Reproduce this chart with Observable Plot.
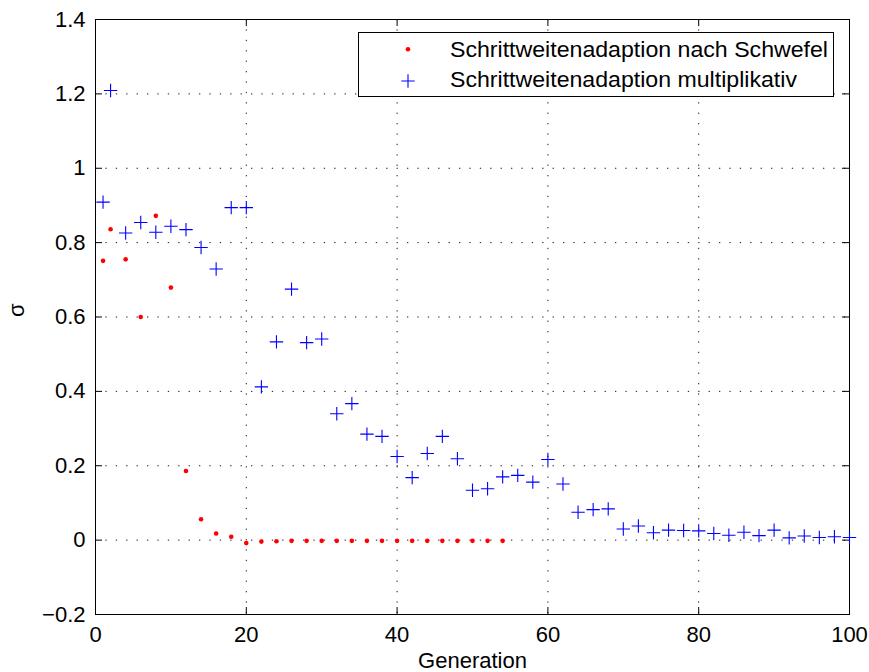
<!DOCTYPE html>
<html><head><meta charset="utf-8">
<script src="https://cdn.jsdelivr.net/npm/d3@7"></script>
<script src="https://cdn.jsdelivr.net/npm/@observablehq/plot@0.6"></script>
<style>body{margin:0;background:#fff} svg{display:block}</style>
</head><body><div id="chart"></div>
<script>
// ---- data ----
const schwefelGen = [1,2,4,6,8,10,12,14,16,18,20,22,24,26,28,30,32,34,36,38,40,42,44,46,48,50,52,54];
const schwefelSigma = [0.751,0.836,0.755,0.600,0.872,0.679,0.186,0.056,0.018,0.009,-0.008,-0.004,-0.003,-0.002,-0.002,-0.002,-0.002,-0.002,-0.002,-0.002,-0.002,-0.002,-0.002,-0.002,-0.002,-0.002,-0.002,-0.002];
const multGen = [1,2,4,6,8,10,12,14,16,18,20,22,24,26,28,30,32,34,36,38,40,42,44,46,48,50,52,54,56,58,60,62,64,66,68,70,72,74,76,78,80,82,84,86,88,90,92,94,96,98,100];
const multSigma = [0.909,1.209,0.826,0.854,0.828,0.844,0.835,0.787,0.729,0.894,0.894,0.412,0.533,0.675,0.531,0.541,0.340,0.367,0.285,0.279,0.225,0.168,0.233,0.279,0.219,0.134,0.138,0.170,0.174,0.156,0.217,0.151,0.075,0.082,0.084,0.030,0.038,0.020,0.027,0.026,0.025,0.018,0.013,0.021,0.012,0.027,0.006,0.011,0.007,0.009,0.007];
const xTicks = [0,20,40,60,80,100];
const yTicks = [-0.2,0,0.2,0.4,0.6,0.8,1,1.2,1.4];
const yTickLabels = ["\u22120.2","0","0.2","0.4","0.6","0.8","1","1.2","1.4"];
const seriesNames = ["Schrittweitenadaption nach Schwefel","Schrittweitenadaption multiplikativ"];
const xLabel = "Generation";
const yLabel = "\u03c3";

const schwefel = schwefelGen.map((g,i)=>({g, s: schwefelSigma[i]}));
const mult = multGen.map((g,i)=>({g, s: multSigma[i]}));

const W = 869, H = 672, mL = 95, mR = 20, mT = 19, mB = 58, TICK = 7;
const frameW = W - mL - mR, frameH = H - mT - mB;

const crossSymbol = {draw(ctx, size){const h=Math.sqrt(size/Math.PI); ctx.moveTo(-h,0); ctx.lineTo(h,0); ctx.moveTo(0,-h); ctx.lineTo(0,h);}};
const font = "'Liberation Sans', Arial, Helvetica, sans-serif";
const gridStyle = {stroke:"#000", strokeOpacity:0.9, strokeWidth:1, strokeDasharray:"1.3,9.1"};

const chart = Plot.plot({
  width: W, height: H,
  marginLeft: mL, marginRight: mR, marginTop: mT, marginBottom: mB,
  style: {fontFamily: font, fontSize: "22px", background: "white", color: "black"},
  x: {domain: [0,100], label: null},
  y: {domain: [-0.2,1.4], label: null},
  marks: [
    Plot.gridX(xTicks, gridStyle),
    Plot.gridY(yTicks, gridStyle),
    Plot.axisX(xTicks, {anchor:"bottom", tickSize:0, tickPadding:12, fontSize:22, label:null, tickFormat:d=>String(d)}),
    Plot.axisY(yTicks, {anchor:"left", tickSize:0, tickPadding:10, fontSize:22, label:null, tickFormat:d=>yTickLabels[yTicks.indexOf(d)]}),
    // inner tick marks on all four sides
    Plot.tickX(xTicks, {x:d=>d, stroke:"black", insetTop: frameH - TICK}),
    Plot.tickX(xTicks, {x:d=>d, stroke:"black", insetBottom: frameH - TICK}),
    Plot.tickY(yTicks, {y:d=>d, stroke:"black", insetRight: frameW - TICK}),
    Plot.tickY(yTicks, {y:d=>d, stroke:"black", insetLeft: frameW - TICK}),
    Plot.frame({stroke:"black", strokeWidth:1}),
    Plot.dot(schwefel, {x:"g", y:"s", r:2.3, fill:"red", stroke:"none"}),
    Plot.dot(mult, {x:"g", y:"s", r:6.7, symbol: crossSymbol, fill:"none", stroke:"#0000ff", strokeWidth:1.1}),
    Plot.text([xLabel], {frameAnchor:"bottom", dy:46.5, lineAnchor:"middle", fontSize:22}),
    Plot.text([yLabel], {frameAnchor:"left", dx:-79, rotate:-90, lineAnchor:"middle", fontSize:22})
  ]
});

// legend
const svg = d3.select(chart);
const lg = svg.append("g").attr("font-family", font).attr("font-size", 22).attr("text-anchor","start");
lg.append("rect").attr("x",358.5).attr("y",32.5).attr("width",475).attr("height",64)
  .attr("fill","white").attr("stroke","black").attr("stroke-width",1);
lg.append("circle").attr("cx",408).attr("cy",49.3).attr("r",2.3).attr("fill","red").attr("stroke","none");
lg.append("path").attr("transform","translate(408,81)")
  .attr("d", d3.symbol(crossSymbol, Math.PI*6.7*6.7)()).attr("fill","none").attr("stroke","#0000ff").attr("stroke-width",1.1);
lg.append("text").attr("x",450).attr("y",56.7).attr("fill","black").attr("textLength",378).attr("lengthAdjust","spacingAndGlyphs").text(seriesNames[0]);
lg.append("text").attr("x",450).attr("y",86.7).attr("fill","black").attr("textLength",347).attr("lengthAdjust","spacingAndGlyphs").text(seriesNames[1]);

document.getElementById("chart").appendChild(chart);
</script>
</body></html>
